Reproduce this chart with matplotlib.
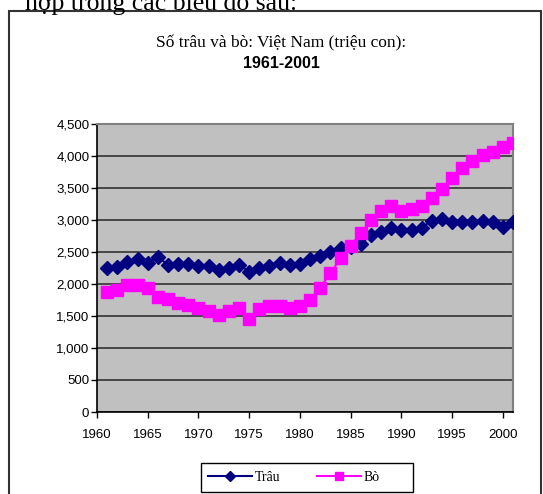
import matplotlib
matplotlib.use("Agg")
import matplotlib.pyplot as plt
from matplotlib.patches import Rectangle

years = list(range(1961, 2002))
trau = [2245, 2271, 2349, 2390, 2323, 2427, 2297, 2307, 2312, 2286,
        2286, 2219, 2245, 2300, 2193, 2245, 2281, 2333, 2297, 2307,
        2385, 2443, 2505, 2568, 2585, 2630, 2766, 2818, 2870, 2844,
        2844, 2880, 2990, 3010, 2974, 2974, 2974, 2984, 2974, 2896,
        2974]
bo = [1870, 1906, 1984, 1984, 1932, 1802, 1760, 1698, 1672, 1620,
      1583, 1516, 1578, 1630, 1453, 1609, 1661, 1661, 1620, 1656,
      1750, 1943, 2167, 2400, 2600, 2792, 3000, 3140, 3219, 3140,
      3172, 3219, 3349, 3479, 3651, 3818, 3922, 4016, 4068, 4135,
      4208]

x_ticks = [1960, 1965, 1970, 1975, 1980, 1985, 1990, 1995, 2000]
y_ticks = [0, 500, 1000, 1500, 2000, 2500, 3000, 3500, 4000, 4500]
y_tick_labels = ["0", "500", "1,000", "1,500", "2,000", "2,500",
                 "3,000", "3,500", "4,000", "4,500"]
series_names = ["Trâu", "Bò"]
title_line1 = "Số trâu và bò: Việt Nam (triệu con):"
title_line2 = "1961-2001"
page_text = "hợp trong các biểu đồ sau:"

W, H = 543, 494
fig = plt.figure(figsize=(W / 100, H / 100), dpi=100)

def fx(px):
    return px / W

def fy(py):
    return 1 - py / H

# outer chart frame
fig.patches.append(Rectangle((fx(8.5), fy(520)), fx(541) - fx(8.5), fy(11) - fy(520),
                             transform=fig.transFigure, fill=False,
                             edgecolor="#333333", linewidth=1.5))

fig.text(fx(25), fy(10), page_text, family="Liberation Serif", fontsize=18.5,
         va="baseline", ha="left", color="black")

fig.text(0.5 + fx(10), fy(43), title_line1, family="Liberation Serif", fontsize=12.5,
         ha="center", va="center")
fig.text(0.5 + fx(10), fy(63), title_line2, family="Liberation Sans", fontsize=11.5,
         fontweight="bold", ha="center", va="center")

ax = fig.add_axes([fx(97), fy(412), fx(513) - fx(97), fy(124) - fy(412)])
ax.set_facecolor("#C0C0C0")

l1, = ax.plot(years, trau, color="#000080", marker="D", markersize=7,
              markeredgecolor="#000080", linewidth=1.5, label=series_names[0], zorder=3)
l2, = ax.plot(years, bo, color="#FF00FF", marker="s", markersize=8,
              markeredgecolor="#FF00FF", linewidth=1.5, label=series_names[1], zorder=4)

ax.set_xlim(1960, 2001)
ax.set_ylim(0, 4500)
ax.set_xticks(x_ticks)
ax.set_xticklabels([str(v) for v in x_ticks], family="Liberation Sans", fontsize=9.5)
ax.set_yticks(y_ticks)
ax.set_yticklabels(y_tick_labels, family="Liberation Sans", fontsize=9.5)
ax.tick_params(direction="out", length=4, width=1, color="black")
ax.tick_params(axis="x", pad=8)
ax.tick_params(axis="y", pad=1.5)
ax.yaxis.grid(True, color="#333333", linewidth=1.2)
ax.set_axisbelow(True)

for s in ["left", "bottom"]:
    ax.spines[s].set_color("black")
    ax.spines[s].set_linewidth(1.2)
for s in ["top", "right"]:
    ax.spines[s].set_color("#808080")
    ax.spines[s].set_linewidth(1.5)

# legend frame (Excel style, with extra room on the right)
fig.patches.append(Rectangle((fx(201), fy(492)), fx(413) - fx(201), fy(463) - fy(492),
                             transform=fig.transFigure, fill=False,
                             edgecolor="black", linewidth=1.0))
leg = fig.legend(handles=[l1, l2], loc="center left", ncol=2,
                 bbox_to_anchor=(fx(201), fy(477.5)),
                 prop={"family": "Liberation Serif", "size": 10},
                 frameon=False, handlelength=3.2, columnspacing=2.6,
                 handletextpad=0.2, borderpad=0.5, borderaxespad=0,
                 markerscale=0.7)

fig.savefig("out.png", dpi=100)
